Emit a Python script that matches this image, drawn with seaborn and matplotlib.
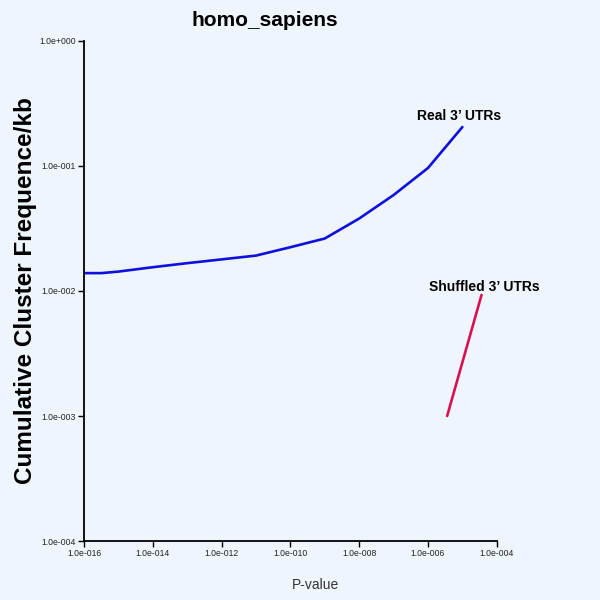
"""
Cumulative cluster frequency per kb vs P-value, homo_sapiens,
real vs shuffled 3' UTRs.
"""

import matplotlib

matplotlib.use("Agg")
import matplotlib.pyplot as plt
import pandas as pd
import seaborn as sns

BG = "#eef5fd"
FONT = ["Liberation Sans", "DejaVu Sans"]

# values (log-log axes)
real_p = [1e-16, 3.2e-16, 1e-15, 1e-14, 1e-13, 1e-12, 1e-11,
          1e-10, 1e-9, 1e-8, 1e-7, 1e-6, 1e-5]
real_freq = [0.0139, 0.0139, 0.0143, 0.0155, 0.0167, 0.0179, 0.0192,
             0.0224, 0.0263, 0.038, 0.0586, 0.0964, 0.205]

shuffled_p = [3.6e-6, 3.6e-5]
shuffled_freq = [0.001, 0.0093]

x_ticks = [1e-16, 1e-14, 1e-12, 1e-10, 1e-8, 1e-6, 1e-4]
x_labels = ["1.0e-016", "1.0e-014", "1.0e-012", "1.0e-010",
            "1.0e-008", "1.0e-006", "1.0e-004"]
y_ticks = [1e-4, 1e-3, 1e-2, 1e-1, 1e0]
y_labels = ["1.0e-004", "1.0e-003", "1.0e-002", "1.0e-001", "1.0e+000"]


def main():
    sns.set_style("ticks")
    plt.rcParams["font.family"] = FONT

    real = pd.DataFrame({"p": real_p, "freq": real_freq})
    shuffled = pd.DataFrame({"p": shuffled_p, "freq": shuffled_freq})

    fig = plt.figure(figsize=(6, 6), dpi=100, facecolor=BG)
    ax = fig.add_axes([0.14, 0.0983, 0.688, 0.8334])
    ax.set_facecolor(BG)

    sns.lineplot(data=real, x="p", y="freq", ax=ax, color="#1010dc",
                 linewidth=1.9)
    sns.lineplot(data=shuffled, x="p", y="freq", ax=ax, color="#d8124e",
                 linewidth=1.9)

    ax.set_xscale("log")
    ax.set_yscale("log")
    ax.set_xlim(1e-16, 1e-4)
    ax.set_ylim(1e-4, 1e0)
    ax.set_xticks(x_ticks)
    ax.set_xticklabels(x_labels)
    ax.set_yticks(y_ticks)
    ax.set_yticklabels(y_labels)
    ax.minorticks_off()
    ax.tick_params(labelsize=6.2, length=4, width=1, color="black",
                   labelcolor="#222222", pad=2)

    for side in ("top", "right"):
        ax.spines[side].set_visible(False)
    for side in ("left", "bottom"):
        ax.spines[side].set_linewidth(1.3)
        ax.spines[side].set_color("black")

    ax.set_xlabel("P-value", fontsize=10, color="#333333")
    ax.xaxis.set_label_coords(0.562, -0.074)
    ax.set_ylabel("Cumulative Cluster Frequence/kb", fontsize=17.5,
                  fontweight="bold", color="black")
    ax.yaxis.set_label_coords(-0.113, 0.5)

    ax.text(7.9e-6, 0.25, "Real 3\u2019 UTRs", fontsize=10,
            fontweight="bold", ha="center", va="center", color="black")
    ax.text(4.4e-5, 0.0108, "Shuffled 3\u2019 UTRs", fontsize=10,
            fontweight="bold", ha="center", va="center", color="black")

    fig.text(265 / 600, 1 - 20 / 600, "homo_sapiens", fontsize=15,
             fontweight="bold", ha="center", va="center", color="black")

    fig.savefig("out.png", dpi=100, facecolor=BG)
    plt.close(fig)


if __name__ == "__main__":
    main()
